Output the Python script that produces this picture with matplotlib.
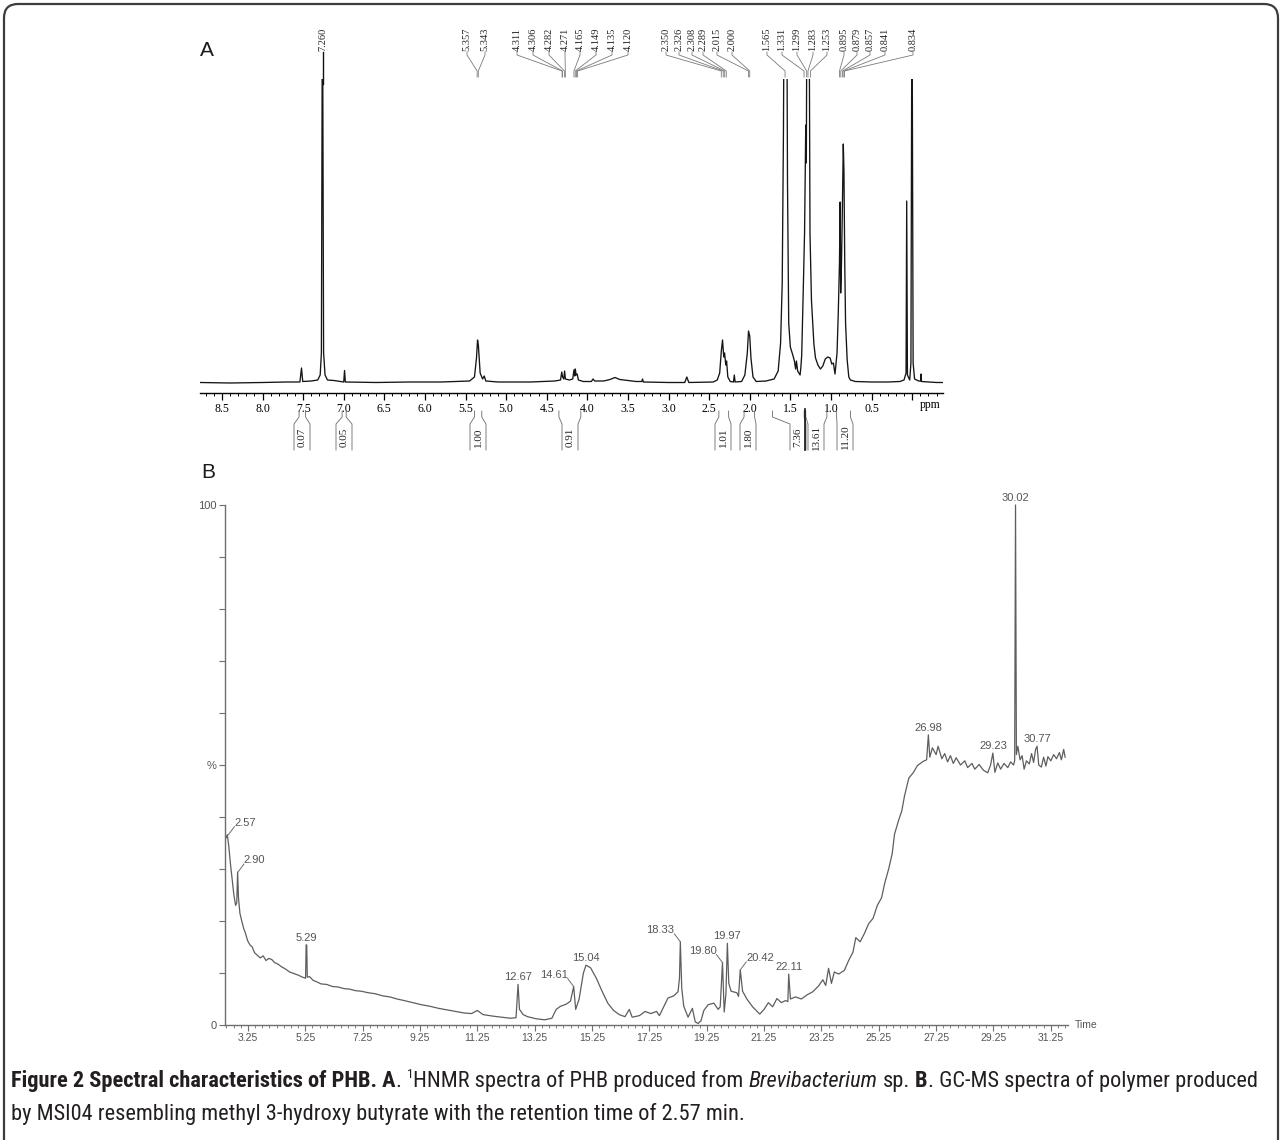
import matplotlib
matplotlib.use("Agg")
import numpy as np
import matplotlib.pyplot as plt
from matplotlib import font_manager
from matplotlib.patches import FancyBboxPatch

W, H, DPI = 1282, 1140, 100

# ---- A: 1H NMR trace, ppm vs intensity (px above baseline) ----
nmr_ppm = [8.77, 8.40, 8.00, 7.70, 7.54, 7.52, 7.505, 7.40, 7.32, 7.29, 7.275, 7.262, 7.248, 7.23,
           7.20, 7.12, 7.00, 6.99, 6.98, 6.60, 6.20, 5.80, 5.45, 5.39, 5.365, 5.352, 5.342, 5.32,
           5.29, 5.27, 5.25, 5.10, 4.70, 4.40, 4.33, 4.315, 4.305, 4.29, 4.28, 4.27, 4.22, 4.18,
           4.165, 4.155, 4.148, 4.138, 4.125, 4.11, 4.05, 3.95, 3.93, 3.91, 3.80, 3.72, 3.66, 3.60,
           3.50, 3.40, 3.33, 3.32, 3.31, 3.00, 2.80, 2.775, 2.75, 2.45, 2.40, 2.37, 2.35, 2.335,
           2.32, 2.31, 2.295, 2.285, 2.27, 2.24, 2.20, 2.19, 2.18, 2.10, 2.06, 2.03, 2.015, 2.00,
           1.985, 1.96, 1.92, 1.80, 1.70, 1.65, 1.62, 1.60, 1.585, 1.575, 1.545, 1.535, 1.52, 1.50,
           1.47, 1.45, 1.435, 1.425, 1.41, 1.395, 1.38, 1.37, 1.36, 1.35, 1.34, 1.325, 1.31, 1.303,
           1.295, 1.27, 1.258, 1.24, 1.21, 1.19, 1.16, 1.13, 1.10, 1.07, 1.04, 1.01, 0.99, 0.97,
           0.95, 0.925, 0.91, 0.895, 0.887, 0.88, 0.87, 0.86, 0.848, 0.84, 0.83, 0.82, 0.80, 0.78,
           0.76, 0.70, 0.50, 0.30, 0.15, 0.10, 0.075, 0.067, 0.058, 0.03, 0.015, 0.002, -0.012,
           -0.03, -0.08, -0.105, -0.11, -0.115, -0.20, -0.30, -0.38]
nmr_int = [0.5, 0.0, 0.5, 1.0, 1.0, 15.0, 1.5, 2.0, 3.0, 8.0, 30.0, 420.0, 30.0, 8.0,
           3.0, 2.5, 1.0, 12.5, 1.0, 0.5, 1.0, 1.0, 2.0, 6.0, 25.0, 43.0, 38.0, 10.0,
           4.0, 7.0, 2.0, 1.0, 1.0, 2.0, 3.0, 11.0, 6.0, 4.0, 12.0, 4.0, 3.0, 4.0,
           13.0, 7.0, 14.0, 8.0, 9.0, 3.0, 1.5, 1.5, 4.0, 2.0, 2.0, 3.5, 5.5, 3.5,
           2.5, 1.5, 1.5, 4.0, 1.0, 0.5, 0.5, 6.0, 0.5, 1.0, 3.0, 10.0, 32.0, 43.0,
           26.0, 30.0, 18.0, 22.0, 6.0, 1.5, 1.0, 8.0, 1.0, 1.5, 8.0, 30.0, 52.0, 47.0,
           25.0, 6.0, 1.5, 2.0, 4.0, 12.0, 40.0, 100.0, 250.0, 420.0, 420.0, 200.0, 60.0, 36.0,
           28.0, 22.0, 14.0, 22.0, 12.0, 10.0, 8.0, 16.0, 28.0, 60.0, 96.0, 150.0, 258.0, 220.0,
           420.0, 420.0, 150.0, 83.0, 39.0, 25.0, 18.0, 14.0, 17.0, 24.0, 26.0, 25.0, 19.0, 20.0,
           9.0, 30.0, 69.0, 120.0, 181.0, 90.0, 120.0, 170.0, 239.0, 213.0, 120.0, 60.0, 23.0, 6.0,
           3.0, 1.5, 1.0, 1.0, 1.5, 3.0, 10.0, 182.0, 8.0, 3.0, 20.0, 420.0, 20.0,
           4.0, 2.0, 2.0, 9.0, 1.5, 1.0, 0.5, 0.5]
nmr_peak_labels = ["7.260", "5.357", "5.343", "4.311", "4.306", "4.282", "4.271", "4.165", "4.149",
                   "4.135", "4.120", "2.350", "2.326", "2.308", "2.289", "2.015", "2.000", "1.565",
                   "1.331", "1.299", "1.283", "1.253", "0.895", "0.879", "0.857", "0.841", "0.834"]
nmr_integrals = ["0.07", "0.05", "1.00", "0.91", "1.01", "1.80", "7.36", "13.61", "11.20"]
nmr_int_ranges = [(7.55, 7.47), (7.02, 6.97), (5.39, 5.30), (4.35, 4.08), (2.38, 2.26),
                  (2.07, 1.94), (1.72, 1.33), (1.31, 1.05), (0.93, 0.76)]
nmr_ticks = [0.0, 0.5, 1.0, 1.5, 2.0, 2.5, 3.0, 3.5, 4.0, 4.5, 5.0, 5.5, 6.0, 6.5, 7.0, 7.5, 8.0, 8.5]

# ---- B: GC-MS total ion chromatogram, retention time (min) vs relative abundance (%) ----
gc_time = [2.49, 2.53, 2.58, 2.64, 2.70, 2.76, 2.82, 2.86, 2.89, 2.92, 2.97, 3.03, 3.10, 3.16, 3.24,
           3.32, 3.40, 3.48, 3.58, 3.68, 3.78, 3.88, 3.98, 4.08, 4.18, 4.30, 4.42, 4.55, 4.70, 4.85,
           5.00, 5.15, 5.26, 5.28, 5.30, 5.32, 5.40, 5.52, 5.65, 5.80, 6.00, 6.20, 6.40, 6.60, 6.80,
           7.00, 7.20, 7.45, 7.70, 7.95, 8.20, 8.45, 8.70, 9.00, 9.30, 9.60, 9.90, 10.20, 10.50,
           10.80, 11.05, 11.25, 11.45, 11.80, 12.10, 12.40, 12.60, 12.67, 12.72, 12.85, 13.00, 13.30,
           13.60, 13.85, 14.00, 14.15, 14.35, 14.50, 14.61, 14.68, 14.80, 14.95, 15.04, 15.20, 15.40,
           15.60, 15.80, 16.00, 16.20, 16.40, 16.55, 16.65, 16.90, 17.10, 17.30, 17.50, 17.60, 17.75,
           17.90, 18.10, 18.25, 18.30, 18.33, 18.38, 18.45, 18.60, 18.75, 18.85, 18.95, 19.05, 19.15,
           19.30, 19.50, 19.65, 19.72, 19.80, 19.86, 19.92, 19.97, 20.02, 20.10, 20.30, 20.36, 20.42,
           20.50, 20.65, 20.85, 21.10, 21.25, 21.40, 21.55, 21.70, 21.85, 22.00, 22.08, 22.11, 22.17,
           22.35, 22.55, 22.75, 22.95, 23.15, 23.30, 23.40, 23.50, 23.60, 23.70, 23.85, 24.05, 24.20,
           24.35, 24.45, 24.60, 24.75, 24.90, 25.05, 25.20, 25.35, 25.45, 25.60, 25.72, 25.80, 25.95,
           26.05, 26.15, 26.30, 26.45, 26.60, 26.80, 26.92, 26.98, 27.03, 27.12, 27.25, 27.32, 27.45,
           27.55, 27.65, 27.75, 27.85, 27.95, 28.10, 28.25, 28.35, 28.50, 28.60, 28.75, 28.90, 29.05,
           29.15, 29.23, 29.30, 29.40, 29.50, 29.62, 29.75, 29.85, 29.95, 29.99, 30.02, 30.05, 30.10,
           30.18, 30.25, 30.32, 30.40, 30.50, 30.58, 30.65, 30.72, 30.77, 30.83, 30.92, 31.00, 31.08,
           31.15, 31.25, 31.35, 31.45, 31.55, 31.62, 31.70, 31.75]
gc_pct = [36.0, 36.6, 34.5, 31.0, 28.0, 25.0, 23.0, 23.5, 29.4, 24.5, 21.5, 20.1, 18.6, 17.7, 16.2,
          15.4, 15.0, 13.9, 13.4, 12.9, 13.3, 12.4, 12.8, 12.6, 12.0, 11.7, 11.2, 10.8, 10.2, 9.9,
          9.6, 9.2, 9.0, 15.4, 15.4, 9.2, 9.3, 8.6, 8.3, 7.9, 7.8, 7.4, 7.3, 7.0, 6.9,
          6.6, 6.5, 6.2, 6.0, 5.6, 5.4, 5.0, 4.7, 4.3, 3.9, 3.6, 3.2, 2.9, 2.6,
          2.3, 2.2, 2.8, 2.0, 1.7, 1.5, 1.3, 1.4, 7.8, 3.0, 2.0, 1.6, 1.2,
          1.0, 1.3, 3.0, 3.6, 4.0, 4.6, 7.4, 3.0, 5.0, 10.0, 11.5, 11.0, 9.0,
          6.5, 4.2, 2.8, 2.0, 1.6, 3.0, 1.5, 1.8, 2.6, 2.2, 2.6, 1.8, 3.5,
          5.2, 5.6, 6.4, 9.0, 16.0, 7.0, 3.6, 1.5, 3.2, 0.6, 0.3, 0.8, 2.8,
          3.9, 4.2, 3.0, 3.5, 12.0, 2.5, 6.0, 15.7, 8.0, 6.5, 6.2, 5.5, 10.6,
          6.5, 5.0, 3.5, 2.1, 3.0, 4.3, 3.5, 5.1, 4.3, 4.7, 4.5, 9.8, 5.0,
          5.4, 5.0, 5.8, 6.4, 7.5, 8.7, 7.6, 10.9, 8.0, 10.2, 9.8, 10.5, 12.4,
          14.0, 16.8, 16.0, 17.6, 19.5, 20.5, 23.0, 24.5, 27.1, 30.1, 33.0, 36.7, 39.5,
          41.1, 44.1, 47.5, 48.5, 49.9, 50.7, 51.0, 55.8, 51.5, 53.3, 52.0, 53.6, 51.2,
          52.2, 50.6, 51.8, 50.3, 51.4, 50.0, 50.8, 49.5, 50.3, 49.2, 50.1, 49.0, 48.5,
          50.0, 52.3, 48.6, 50.4, 49.2, 50.3, 49.5, 50.6, 50.0, 50.8, 100.0, 52.0, 53.6,
          51.0, 51.8, 49.2, 50.8, 50.2, 52.2, 50.5, 53.0, 53.6, 50.0, 49.6, 51.5, 49.8,
          51.6, 50.8, 52.0, 51.2, 52.4, 51.0, 53.0, 51.5]
gc_peak_labels = ["2.57", "2.90", "5.29", "12.67", "14.61", "15.04", "18.33", "19.80", "19.97",
                  "20.42", "22.11", "26.98", "29.23", "30.02", "30.77"]
gc_xticks = [3.25, 5.25, 7.25, 9.25, 11.25, 13.25, 15.25, 17.25, 19.25, 21.25, 23.25, 25.25,
             27.25, 29.25, 31.25]

cap_line1 = [("Figure 2 Spectral characteristics of PHB. A", "bold"), (". ", "normal"), ("1", "sup"),
             ("HNMR spectra of PHB produced from ", "normal"), ("Brevibacterium", "italic"),
             (" sp. ", "normal"), ("B", "bold"), (". GC-MS spectra of polymer produced", "normal")]
cap_line2 = [("by MSI04 resembling methyl 3-hydroxy butyrate with the retention time of 2.57 min.", "normal")]

# ---- layout (pixel boxes: left, top, right, bottom) ----
A_BOX = (200, 79, 943, 393)
B_BOX = (225, 505, 1068, 1025)
top_label_x = [323, 467, 485, 517, 533, 549, 565, 580, 596, 612, 628, 666, 679, 692, 703, 717, 732,
               767, 782, 797, 813, 827, 844, 857, 870, 885, 913]
int_box_x = [302, 344, 478, 570, 723, 748, 798, 816, 845]
gc_side = {"2.57": 1, "2.90": 1, "14.61": -1, "18.33": -1, "19.80": -1, "20.42": 1}

SERIF = "Liberation Serif"
SANS = "Liberation Sans"

# narrowest sans available for the caption (reference uses a condensed face)
CAP_FONT, CAP_STRETCH = "Liberation Sans", "normal"
fonts = font_manager.fontManager.ttflist
for fam in ("Liberation Sans Narrow", "Roboto Condensed", "Open Sans Condensed", "Noto Sans Condensed"):
    if any(f.name == fam for f in fonts):
        CAP_FONT = fam
        break
else:
    if any(f.name == "DejaVu Sans" and str(f.stretch) in ("condensed", "semi-condensed") for f in fonts):
        CAP_FONT, CAP_STRETCH = "DejaVu Sans", "condensed"

fig = plt.figure(figsize=(W / DPI, H / DPI), dpi=DPI)


def px_axes(box):
    l, t, r, b = box
    return fig.add_axes([l / W, 1 - b / H, (r - l) / W, (b - t) / H])


def to_px(a, x, y):
    dx, dy = a.transData.transform((x, y))
    return dx, H - dy


# ---------------- panel A ----------------
ax = px_axes(A_BOX)
ax.plot(nmr_ppm, nmr_int, color="#151515", lw=0.95)
ax.set_xlim(8.77, -0.38)
ax.set_ylim(-10, 304)
for s in ("top", "left", "right"):
    ax.spines[s].set_visible(False)
ax.spines["bottom"].set_linewidth(1.0)
ax.set_yticks([])
ax.set_xticks(nmr_ticks)
ax.set_xticklabels(["" if v == 0 else f"{v:.1f}" for v in nmr_ticks], family=SERIF, fontsize=8.5)
ax.set_xticks(np.arange(-0.3, 8.75, 0.1), minor=True)
ax.tick_params(axis="x", which="major", direction="out", length=5, width=0.9, pad=2)
ax.tick_params(axis="x", which="minor", direction="out", length=2.5, width=0.7)

# ---------------- panel B ----------------
bx = px_axes(B_BOX)
bx.plot(gc_time, gc_pct, color="#5e5e5e", lw=0.9, clip_on=False)
bx.set_xlim(2.45, 31.85)
bx.set_ylim(0, 100)
for s in ("top", "right"):
    bx.spines[s].set_visible(False)
for s in ("left", "bottom"):
    bx.spines[s].set_color("#6e6e6e")
    bx.spines[s].set_linewidth(1.0)
bx.set_yticks(range(0, 101, 10))
bx.set_yticklabels(["0", "", "", "", "", "%", "", "", "", "", "100"], family=SANS, fontsize=8,
                   color="#555555")
bx.set_xticks(gc_xticks)
bx.set_xticklabels([f"{v:.2f}" for v in gc_xticks], family=SANS, fontsize=7.5, color="#555555")
bx.set_xticks(np.arange(2.5, 31.8, 0.25), minor=True)
bx.tick_params(axis="both", which="major", color="#6e6e6e", length=4, width=0.8, pad=2)
bx.tick_params(axis="x", which="minor", color="#6e6e6e", length=2.5, width=0.6)
bx.text(1.008, 0, "Time", transform=bx.transAxes, va="center", ha="left", family=SANS,
        fontsize=7.5, color="#555555")

# ---------------- overlay in pixel space ----------------
ov = fig.add_axes([0, 0, 1, 1], zorder=5)
ov.set_xlim(0, W)
ov.set_ylim(H, 0)
ov.axis("off")

ov.add_patch(FancyBboxPatch((4, 4), W - 8, H + 40, boxstyle="round,pad=0,rounding_size=14",
                            fc="none", ec="#3c3c3c", lw=1.6, clip_on=False))
ov.text(207, 50, "A", fontsize=15, family=SANS, ha="center", va="center", color="#1a1a1a")
ov.text(208, 473, "B", fontsize=15, family=SANS, ha="center", va="center", color="#1a1a1a")

# peak-pick labels above the NMR trace
for lab, lx in zip(nmr_peak_labels, top_label_x):
    tx, _ = to_px(ax, float(lab), 0)
    ov.text(lx, 51, lab, rotation=90, ha="center", va="bottom", family=SERIF, fontsize=7.5,
            color="#222222")
    if lab == "7.260":
        ov.plot([lx, lx], [52, 84], color="#111111", lw=1.0)
    else:
        ov.plot([lx, lx, tx, tx], [52, 55, 71, 77], color="#7a7a7a", lw=0.6)

# "ppm" unit at the end of the scale
px_ppm, _ = to_px(ax, -0.22, 0)
ov.text(px_ppm, 405, "ppm", ha="center", va="center", family=SERIF, fontsize=8.5)

# integral boxes under the NMR axis
for val, (p0, p1), cx in zip(nmr_integrals, nmr_int_ranges, int_box_x):
    x0, _ = to_px(ax, p0, 0)
    x1, _ = to_px(ax, p1, 0)
    hw = 8
    ov.plot([x0, x0, cx - hw, cx - hw], [411, 417, 424, 450], color="#6a6a6a", lw=0.6)
    ov.plot([x1, x1, cx + hw, cx + hw], [411, 417, 424, 450], color="#6a6a6a", lw=0.6)
    ov.text(cx, 437, val, rotation=90, ha="center", va="center", family=SERIF, fontsize=8,
            color="#222222")
sx, _ = to_px(ax, 1.32, 0)
ov.plot([sx, sx], [409, 450], color="#111111", lw=1.2)

# retention-time labels on the chromatogram
gt = np.array(gc_time)
gp = np.array(gc_pct)
for lab in gc_peak_labels:
    t = float(lab)
    m = np.abs(gt - t) <= 0.045
    pk = gp[m].max()
    px, py = to_px(bx, t, pk)
    side = gc_side.get(lab, 0)
    if side == 0:
        ov.text(px, py - 2, lab, ha="center", va="bottom", family=SANS, fontsize=8,
                color="#555555")
    else:
        ex, ey = px + 6 * side, py - 8
        ov.plot([px, ex], [py, ey], color="#6e6e6e", lw=0.7)
        ov.text(ex, ey + 1, lab, ha="left" if side > 0 else "right", va="bottom", family=SANS,
                fontsize=8, color="#555555")

# caption with mixed styles
renderer = fig.canvas.get_renderer()


def text_w(s, **kw):
    t = ov.text(0, 0, s, **kw)
    w = t.get_window_extent(renderer=renderer).width
    t.remove()
    return w


def caption(pieces, x, y, size, draw=True):
    for txt, style in pieces:
        kw = dict(fontsize=size, family=CAP_FONT, fontstretch=CAP_STRETCH, color="#231f20")
        yy = y
        if style == "bold":
            kw["fontweight"] = "bold"
        elif style == "italic":
            kw["fontstyle"] = "italic"
        elif style == "sup":
            kw["fontsize"] = size * 0.6
            yy = y - size * 0.38 * DPI / 72
        sp = text_w("x x", **kw) - text_w("xx", **kw)
        core = txt.strip(" ")
        lead = len(txt) - len(txt.lstrip(" "))
        trail = len(txt) - len(txt.rstrip(" "))
        x += lead * sp
        if draw:
            ov.text(x, yy, core, ha="left", va="baseline", **kw)
        x += text_w(core, **kw) + trail * sp
    return x


size = 13.0
w1 = caption(cap_line1, 0, 0, size, draw=False)
size = size * 1244 / w1
caption(cap_line1, 11, 1087, size)
caption(cap_line2, 11, 1120, size)

fig.savefig("out.png", dpi=DPI)
